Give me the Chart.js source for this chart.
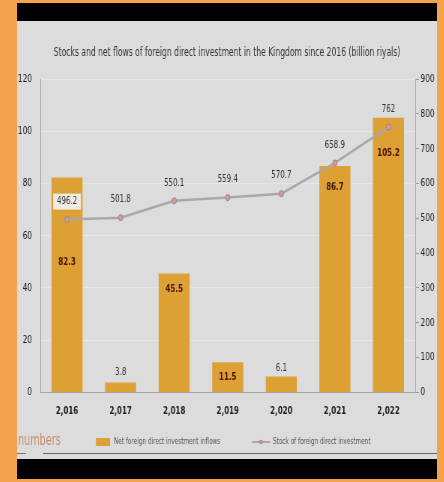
<!DOCTYPE html>
<html>
<head>
<meta charset="utf-8">
<script src="https://cdn.jsdelivr.net/npm/chart.js@4.4.1/dist/chart.umd.min.js"></script>
<style>
  html, body { margin: 0; padding: 0; }
  body { width: 444px; height: 482px; background: #F4A24C; position: relative; overflow: hidden;
         font-family: 'DejaVu Sans Condensed', 'DejaVu Sans', sans-serif; }
  #topbar { position: absolute; left: 17px; top: 3px; width: 420px; height: 18px; background: #000; }
  #panel { position: absolute; left: 17px; top: 21px; width: 420px; height: 438px; background: #dcdcdc; }
  #botbar { position: absolute; left: 17px; top: 459px; width: 420px; height: 20px; background: #000; }
  #chart { position: absolute; left: 0; top: 0; }
  #numbers { position: absolute; left: 1px; top: 409px; font-size: 16px; color: #c98a6c;
             transform: scaleX(0.67); transform-origin: 0 0; }
  #rule1 { position: absolute; left: 26px; top: 432px; width: 394px; height: 1px; background: #666; }
  #rule2 { position: absolute; left: 0px; top: 432px; width: 9px; height: 1px; background: #777; }
</style>
</head>
<body>
<div id="topbar"></div>
<div id="panel">
  <canvas id="chart" width="560" height="438" style="width:420px;height:438px;"></canvas>
  <div id="numbers">numbers</div>
  <div id="rule1"></div>
  <div id="rule2"></div>
</div>
<div id="botbar"></div>
<script>
const titleText = 'Stocks and net flows of foreign direct investment in the Kingdom since 2016 (billion riyals)';
const categories = ['2,016', '2,017', '2,018', '2,019', '2,020', '2,021', '2,022'];
const netInflows = [82.3, 3.8, 45.5, 11.5, 6.1, 86.7, 105.2];
const fdiStock = [496.2, 501.8, 550.1, 559.4, 570.7, 658.9, 762];
const barLabel = 'Net foreign direct investment inflows';
const lineLabel = 'Stock of foreign direct investment';

const FONT = "'DejaVu Sans Condensed', 'DejaVu Sans', sans-serif";
const BAR_COLOR = '#DDA034';
const LINE_COLOR = '#a8a8a8';
const SX = 0.75; // canvas is drawn wider and shown condensed horizontally

// label placement styling: offset (px) below bar top for inside labels; negative = above bar
const barLabelOffsets = [85, -10, 16, 15, -8, 21, 36];

const labelsPlugin = {
  id: 'valueLabels',
  afterDatasetsDraw(chart) {
    const ctx = chart.ctx;
    ctx.save();
    ctx.textAlign = 'center';
    ctx.textBaseline = 'middle';
    const barMeta = chart.getDatasetMeta(0);
    barMeta.data.forEach((el, i) => {
      const off = barLabelOffsets[i];
      const txt = String(netInflows[i]);
      if (off > 0) {
        ctx.font = 'bold 10.5px ' + FONT;
        ctx.fillStyle = '#4a1608';
      } else {
        ctx.font = '10.5px ' + FONT;
        ctx.fillStyle = '#333';
      }
      ctx.fillText(txt, el.x, el.y + off);
    });
    const lineMeta = chart.getDatasetMeta(1);
    ctx.font = '10.5px ' + FONT;
    lineMeta.data.forEach((el, i) => {
      const txt = String(fdiStock[i]);
      const y = el.y - 18;
      if (i === 0) {
        const w = ctx.measureText(txt).width + 10;
        ctx.fillStyle = '#f0ebe0';
        ctx.fillRect(el.x - w / 2, y - 8, w, 16);
      }
      ctx.fillStyle = '#333';
      ctx.fillText(txt, el.x, y);
    });
    ctx.restore();
  },
  afterDraw(chart) {
    const ctx = chart.ctx;
    ctx.save();
    // title (extra horizontal condensing)
    ctx.font = '13px ' + FONT;
    ctx.fillStyle = '#333';
    ctx.textAlign = 'center';
    ctx.textBaseline = 'middle';
    ctx.save();
    ctx.translate(chart.width / 2, 32);
    ctx.scale(0.87, 1);
    ctx.fillText(titleText, 0, 0);
    ctx.restore();
    // legend
    const y = 421;
    ctx.fillStyle = BAR_COLOR;
    ctx.fillRect(79 / SX, y - 4, 14 / SX, 8);
    ctx.font = '8.5px ' + FONT;
    ctx.fillStyle = '#555';
    ctx.textAlign = 'left';
    ctx.fillText(barLabel, 97 / SX, y);
    ctx.strokeStyle = LINE_COLOR;
    ctx.lineWidth = 2;
    ctx.beginPath();
    ctx.moveTo(235 / SX, y);
    ctx.lineTo(253 / SX, y);
    ctx.stroke();
    ctx.beginPath();
    ctx.ellipse(244 / SX, y, 2.2 / SX, 2.2, 0, 0, Math.PI * 2);
    ctx.fillStyle = '#c49090';
    ctx.fill();
    ctx.fillStyle = '#555';
    ctx.fillText(lineLabel, 256 / SX, y);
    ctx.restore();
  }
};

new Chart(document.getElementById('chart'), {
  data: {
    labels: categories,
    datasets: [
      {
        type: 'bar',
        label: barLabel,
        data: netInflows,
        backgroundColor: BAR_COLOR,
        yAxisID: 'y',
        categoryPercentage: 1,
        barPercentage: 0.58,
        order: 2
      },
      {
        type: 'line',
        label: lineLabel,
        data: fdiStock,
        borderColor: LINE_COLOR,
        borderWidth: 2.5,
        pointRadius: 3,
        pointBackgroundColor: '#c9a0a0',
        pointBorderColor: '#b07878',
        pointBorderWidth: 1,
        tension: 0,
        yAxisID: 'y1',
        order: 1
      }
    ]
  },
  options: {
    responsive: false,
    animation: false,
    devicePixelRatio: 1,
    layout: { padding: { left: 0, right: 0, top: 58, bottom: 36 } },
    plugins: {
      legend: { display: false },
      tooltip: { enabled: false },
      title: { display: false }
    },
    scales: {
      x: {
        offset: true,
        grid: { display: false },
        border: { display: true, color: '#a8a8a8', width: 1 },
        ticks: { color: '#222', font: { family: FONT, size: 10.5, weight: 'bold' }, padding: 5 }
      },
      y: {
        position: 'left',
        min: 0, max: 120,
        ticks: { stepSize: 20, color: '#222', font: { family: FONT, size: 11 }, padding: 11 },
        grid: { color: 'rgba(255,255,255,0.3)', drawTicks: false },
        border: { display: true, color: '#a8a8a8', width: 1 },
        afterFit(scale) { scale.width = 31; }
      },
      y1: {
        position: 'right',
        min: 0, max: 900,
        ticks: { stepSize: 100, color: '#222', font: { family: FONT, size: 11 }, padding: 2 },
        grid: { drawOnChartArea: false, tickLength: 5, color: '#999' },
        border: { display: true, color: '#a8a8a8', width: 1 },
        afterFit(scale) { scale.width = 29; }
      }
    }
  },
  plugins: [labelsPlugin]
});
</script>
</body>
</html>
